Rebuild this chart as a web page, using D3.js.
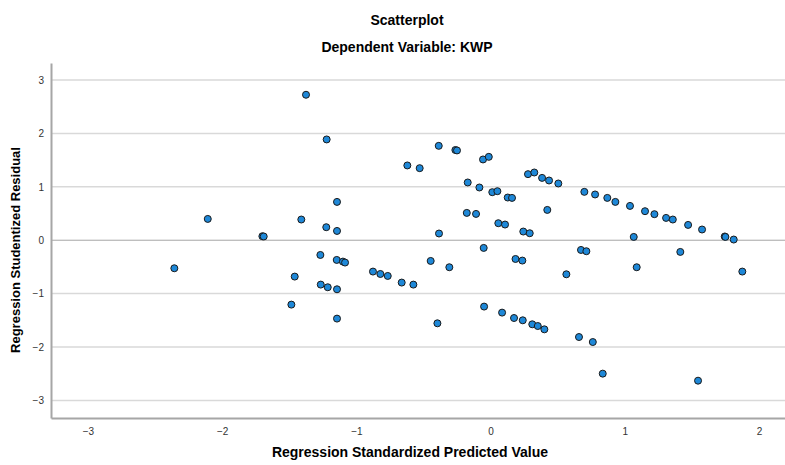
<!DOCTYPE html>
<html>
<head>
<meta charset="utf-8">
<script src="https://cdn.jsdelivr.net/npm/d3@7"></script>
<style>
  body { margin: 0; background: #fff; }
  svg text { font-family: "Liberation Sans", Arial, sans-serif; }
</style>
</head>
<body>
<div id="chart"></div>
<script>
// predicted values (x) and studentized residuals (y)
var predicted = [
  -2.356, -2.107, -1.700, -1.690, -1.484, -1.459, -1.410, -1.375, -1.268, -1.265,
  -1.224, -1.221, -1.213, -1.146, -1.144, -1.144, -1.144, -1.144, -1.100, -1.084,
  -0.876, -0.821, -0.766, -0.662, -0.575, -0.620, -0.528, -0.446, -0.396, -0.386,
  -0.384, -0.307, -0.262, -0.250, -0.177, -0.170, -0.108, -0.083, -0.056, -0.051,
  -0.048, -0.013, 0.013, 0.051, 0.058, 0.086, 0.108, 0.128, 0.160, 0.175,
  0.186, 0.237, 0.240, 0.244, 0.279, 0.292, 0.311, 0.326, 0.352, 0.384,
  0.401, 0.423, 0.436, 0.505, 0.565, 0.659, 0.674, 0.699, 0.714, 0.762,
  0.779, 0.836, 0.870, 0.930, 1.039, 1.067, 1.089, 1.151, 1.221, 1.308,
  1.358, 1.414, 1.472, 1.546, 1.576, 1.745, 1.750, 1.812, 1.876
];
var residual = [
  -0.525, 0.399, 0.075, 0.070, -1.206, -0.681, 0.388, 2.725, -0.276, -0.831,
  0.244, 1.888, -0.881, -0.369, 0.718, 0.174, -0.919, -1.468, -0.400, -0.418,
  -0.587, -0.632, -0.669, -0.793, -0.831, 1.401, 1.350, -0.388, -1.556, 1.768,
  0.126, -0.506, 1.690, 1.682, 0.512, 1.082, 0.493, 0.988, 1.513, -0.144,
  -1.243, 1.562, 0.900, 0.919, 0.319, -1.356, 0.294, 0.800, 0.793, -1.457,
  -0.351, -0.381, -1.500, 0.163, 1.238, 0.131, -1.575, 1.269, -1.607, 1.168,
  -1.669, 0.568, 1.119, 1.063, -0.638, -1.813, -0.182, 0.906, -0.206, -1.907,
  0.857, -2.499, 0.793, 0.718, 0.643, 0.062, -0.506, 0.544, 0.488, 0.418,
  0.388, -0.219, 0.287, -2.631, 0.201, 0.070, 0.062, 0.013, -0.587
];
var xTicks = [-3, -2, -1, 0, 1, 2];
var yTicks = [-3, -2, -1, 0, 1, 2, 3];

var width = 785, height = 465;
var plot = {left: 51, right: 785, top: 63, bottom: 418};

var svg = d3.select("#chart").append("svg")
    .attr("width", width)
    .attr("height", height);

var x = d3.scaleLinear()
    .domain([-3.275, 2.194])
    .range([plot.left, plot.right]);

var y = d3.scaleLinear()
    .domain([-3.33, 3.32])
    .range([plot.bottom, plot.top]);

// titles
svg.append("text")
    .attr("x", 407).attr("y", 25)
    .attr("text-anchor", "middle")
    .style("font-size", "14px").style("font-weight", "bold")
    .text("Scatterplot");

svg.append("text")
    .attr("x", 407).attr("y", 52)
    .attr("text-anchor", "middle")
    .style("font-size", "14px").style("font-weight", "bold")
    .text("Dependent Variable: KWP");

// horizontal gridlines
svg.append("g")
    .selectAll("line")
    .data(yTicks.filter(function(d){ return d != 0; }))
    .join("line")
    .attr("x1", plot.left).attr("x2", plot.right)
    .attr("y1", function(d){ return y(d); })
    .attr("y2", function(d){ return y(d); })
    .attr("stroke", "#d9d9d9")
    .attr("stroke-width", 1.5);

// reference line at zero
svg.append("line")
    .attr("x1", plot.left).attr("x2", plot.right)
    .attr("y1", y(0)).attr("y2", y(0))
    .attr("stroke", "#a6a6a6")
    .attr("stroke-width", 1);

// axes
var yAxis = d3.axisLeft(y).tickValues(yTicks).tickSize(0).tickPadding(7).tickFormat(d3.format("d"));
var gy = svg.append("g")
    .attr("transform", "translate(" + plot.left + ",0)")
    .call(yAxis);

var xAxis = d3.axisBottom(x).tickValues(xTicks).tickSize(0).tickPadding(10).tickFormat(d3.format("d"));
var gx = svg.append("g")
    .attr("transform", "translate(0," + plot.bottom + ")")
    .call(xAxis);

[gx, gy].forEach(function(g){
    g.select(".domain").attr("stroke", "#a6a6a6").attr("stroke-width", 2);
    g.selectAll("text")
        .style("font-family", "'Liberation Sans', Arial, sans-serif")
        .style("font-size", "10px")
        .attr("fill", "#333");
});

// axis titles
svg.append("text")
    .attr("x", 410).attr("y", 457)
    .attr("text-anchor", "middle")
    .style("font-size", "14px").style("font-weight", "bold")
    .text("Regression Standardized Predicted Value");

svg.append("text")
    .attr("transform", "translate(20,250) rotate(-90)")
    .attr("text-anchor", "middle")
    .style("font-size", "13px").style("font-weight", "bold")
    .text("Regression Studentized Residual");

// points
var points = predicted.map(function(d, i){ return {x: d, y: residual[i]}; });

svg.append("g")
    .selectAll("circle")
    .data(points)
    .join("circle")
    .attr("cx", function(d){ return x(d.x); })
    .attr("cy", function(d){ return y(d.y); })
    .attr("r", 3.5)
    .attr("fill", "#1e88d8")
    .attr("stroke", "#1a1a1a")
    .attr("stroke-width", 1);
</script>
</body>
</html>
